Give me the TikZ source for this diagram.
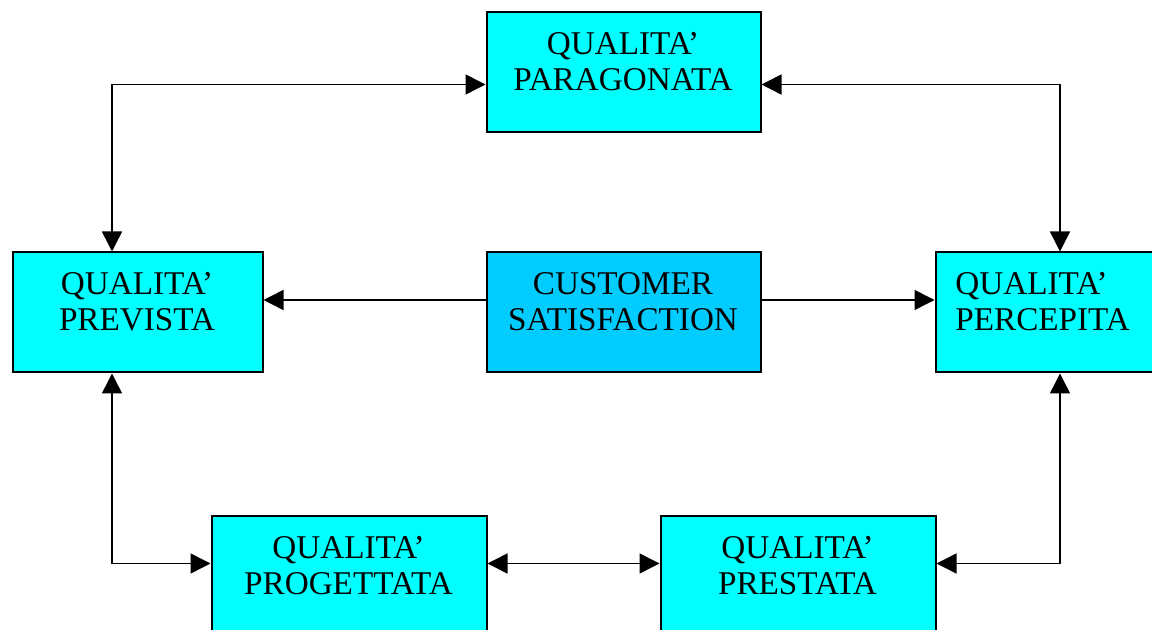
\documentclass[tikz,border=0pt]{standalone}
\usepackage{fontspec}
\setmainfont{Liberation Serif}
\usetikzlibrary{arrows.meta,calc}
\definecolor{boxcyan}{HTML}{00FFFF}
\definecolor{custblue}{HTML}{00CCFF}
\begin{document}
\begin{tikzpicture}[x=0.5pt,y=-0.5pt,
  box/.style={draw=black,line width=1pt,fill=boxcyan,rectangle,anchor=north west,minimum height=60pt,inner sep=0pt},
  lbl/.style={anchor=north,align=center,inner sep=0pt,font=\fontsize{16.6}{18}\selectfont},
  arr/.style={{Triangle[length=10pt,width=10pt]}-{Triangle[length=10pt,width=10pt]},line width=0.75pt},
  tip/.style={-{Triangle[length=10pt,width=10pt]},line width=0.75pt}]
\path[use as bounding box] (0,0) rectangle (1152,630);
\clip (0,0) rectangle (1152,630);
% boxes
\node[box,minimum width=137pt] (par) at (485.5,11.5) {};
\node[box,minimum width=125pt] (prev) at (11.5,251.5) {};
\node[box,minimum width=137pt,fill=custblue] (cust) at (485.5,251.5) {};
\node[box,minimum width=125pt] (perc) at (934.5,251.5) {};
\node[box,minimum width=137.5pt] (prog) at (210.5,515.5) {};
\node[box,minimum width=137.5pt] (prest) at (659.5,515.5) {};
% labels
\node[lbl] (partxt) at (623,32) {QUALITA'\\PARAGONATA};
\node[lbl] (prevtxt) at (137,272) {QUALITA'\\PREVISTA};
\node[lbl] (custtxt) at (623,272) {CUSTOMER\\SATISFACTION};
\node[lbl,anchor=north west,align=left] (perctxt) at (955,272) {QUALITA'\\PERCEPITA};
\node[lbl] (progtxt) at (348.5,536) {QUALITA'\\PROGETTATA};
\node[lbl] (presttxt) at (797.5,536) {QUALITA'\\PRESTATA};
% connectors
\draw[arr] ($(par.north west)+(0,73)$) -| ($(prev.north west)+(100.5,0)$);
\draw[arr] ($(par.north east)+(0,73)$) -| ($(perc.north west)+(125.5,0)$);
\draw[tip] ($(cust.north west)+(0,48.5)$) -- ($(prev.north east)+(0,48.5)$);
\draw[tip] ($(cust.north east)+(0,48.5)$) -- ($(perc.north west)+(0,48.5)$);
\draw[arr] ($(prev.south west)+(100.5,0)$) |- ($(prog.north west)+(0,48)$);
\draw[arr] ($(prog.north east)+(0,48)$) -- ($(prest.north west)+(0,48)$);
\draw[arr] ($(prest.north east)+(0,48)$) -| ($(perc.south west)+(125.5,0)$);
\end{tikzpicture}
\end{document}
